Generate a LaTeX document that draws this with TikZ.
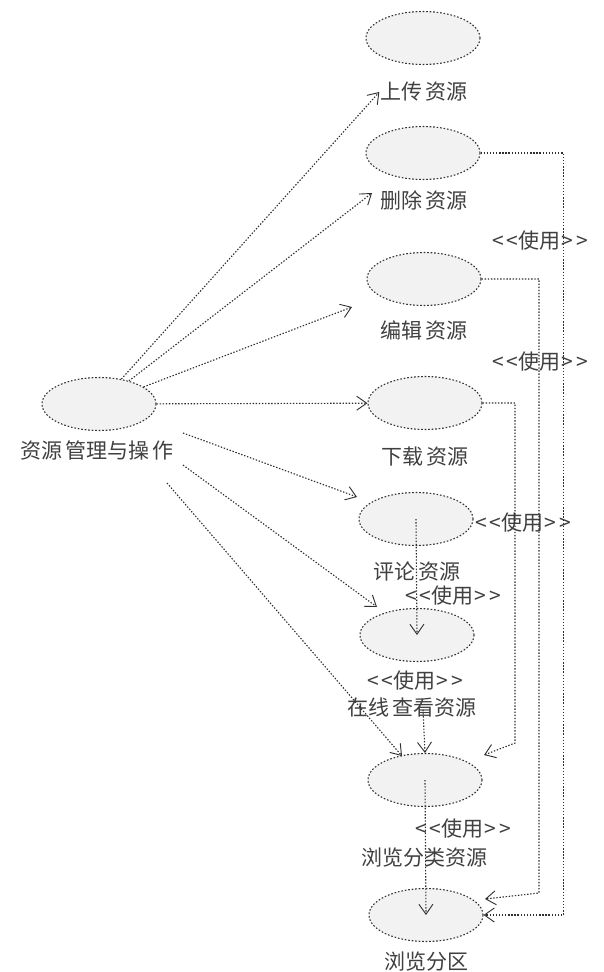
\documentclass[tikz,border=0pt]{standalone}
\usepackage{fontspec}
\setmainfont{Noto Sans CJK SC}
\usetikzlibrary{shapes.geometric,arrows.meta}
\newcommand{\usetag}{<\kern2.5pt<\kern1pt使用\kern1pt>\kern2.5pt>}
\begin{document}
\begin{tikzpicture}[x=1pt,y=-1pt,
  uc/.style={ellipse,draw=black!80,fill=black!5,line width=1.1pt,dash pattern=on 1.6pt off 1.9pt,minimum width=114pt,minimum height=53pt,inner sep=0pt},
  lbl/.style={font=\fontsize{21}{22}\selectfont,text=black!75,inner sep=1pt},
  conn/.style={draw=black!82,line width=1.1pt,dash pattern=on 1.4pt off 1.7pt,-{Straight Barb[length=10pt,width=14pt,line width=0.9pt]}},
]
\useasboundingbox[fill=white] (0,0) rectangle (603,972);
% use cases
\node[uc] (e1) at (423,38) {};
\node[lbl] (l1) at (424,92) {上传\kern3pt 资源};
\node[uc] (e2) at (423,153) {};
\node[lbl] (l2) at (424,200) {删除\kern3pt 资源};
\node[uc] (e3) at (424,279) {};
\node[lbl] (l3) at (424,330) {编辑\kern3pt 资源};
\node[uc] (e4) at (425,403) {};
\node[lbl] (l4) at (425,457) {下载\kern3pt 资源};
\node[uc] (e5) at (416,519) {};
\node[lbl] (l5) at (417,572) {评论\kern3pt 资源};
\node[uc] (e6) at (417,635) {};
\node[lbl] (l6) at (412,708) {在线\kern3pt 查看资源};
\node[uc] (e7) at (425,780) {};
\node[lbl] (l7) at (424,858) {浏览分类资源};
\node[uc] (e8) at (426,915) {};
\node[lbl] (l8) at (426,962) {浏览分区};
\node[uc] (m) at (99,404) {};
\node[lbl] (lm) at (97,450) {资源\kern3pt 管理与操\kern3pt 作};
% stereotype labels
\node[lbl] (u1) at (540,241) {\usetag};
\node[lbl] (u2) at (540,362) {\usetag};
\node[lbl] (u3) at (523,523) {\usetag};
\node[lbl] (u4) at (453,596) {\usetag};
\node[lbl] (u5) at (415,681) {\usetag};
\node[lbl] (u6) at (463,829) {\usetag};
% free ends
\coordinate (t2) at (372,193);
\coordinate (t3) at (352,307);
\coordinate (s5) at (183,433);
\coordinate (t5) at (357,497);
\coordinate (s6) at (183,465);
\coordinate (t6) at (377,607);
\coordinate (s7) at (167,483);
\coordinate (t7) at (402,756);
\coordinate (b3) at (539,893);
\coordinate (t8b) at (485,899);
\coordinate (b4) at (515,743);
\coordinate (t7b) at (484,755);
\coordinate (s6b) at (423,710);
% actor associations
\draw[conn] (m) -- (l1.west);
\draw[conn] (m) -- (t2);
\draw[conn] (m) -- (t3);
\draw[conn] (m) -- (e4);
\draw[conn] (s5) -- (t5);
\draw[conn] (s6) -- (t6);
\draw[conn] (s7) -- (t7);
% include relations
\draw[conn] (e2.east) -- ++(83,0) |- (e8.east);
\draw[conn] (e3.east) -| (b3) -- (t8b);
\draw[conn] (e4.east) -| (b4) -- (t7b);
\draw[conn] (e5.center) -- (e6.center);
\draw[conn] (s6b) -- (e7.north);
\draw[conn] (e7.center) -- (e8.center);
\end{tikzpicture}
\end{document}
